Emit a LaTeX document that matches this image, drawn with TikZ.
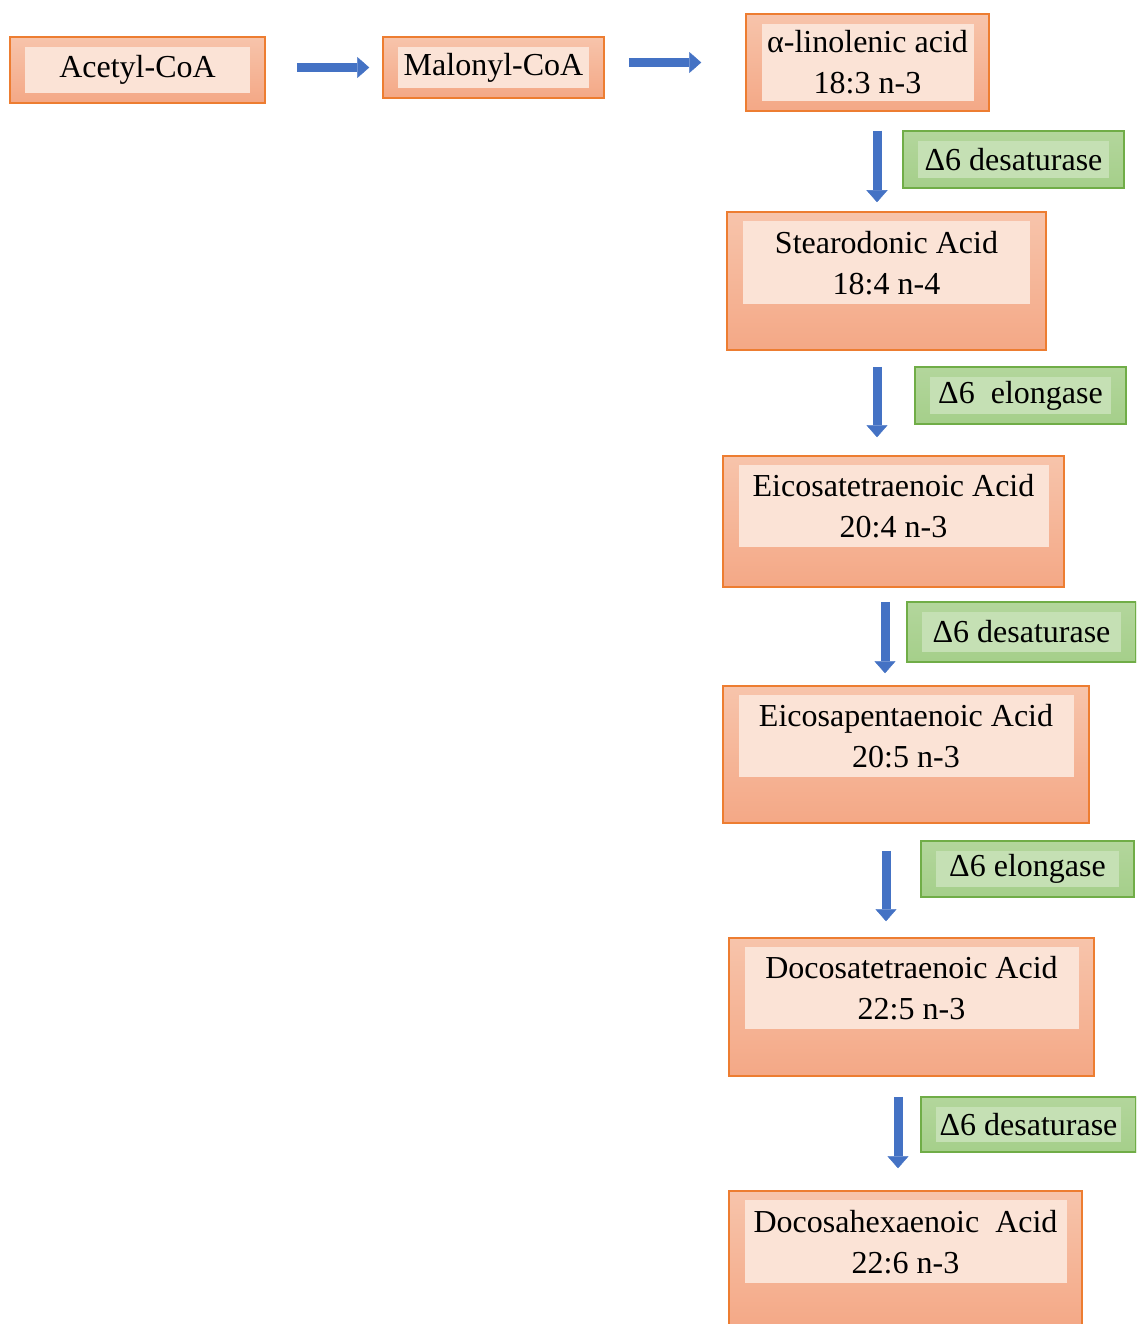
\documentclass[tikz,border=0pt]{standalone}
\usepackage{fontspec}
\setmainfont{Liberation Serif}
\usetikzlibrary{positioning,arrows.meta}

\definecolor{acidline}{HTML}{ED7D31}
\definecolor{acidtop}{HTML}{F7C4AB}
\definecolor{acidbottom}{HTML}{F4A886}
\definecolor{acidinner}{HTML}{FBE3D6}
\definecolor{enzline}{HTML}{70AD47}
\definecolor{enztop}{HTML}{B3D69C}
\definecolor{enzbottom}{HTML}{A5CF8A}
\definecolor{enzinner}{HTML}{C5E0B4}
\definecolor{flowblue}{HTML}{4472C4}

\begin{document}
\begin{tikzpicture}[x=1pt,y=-1pt]
            \tikzstyle{acid}=[draw=acidline, line width=1.5pt, top color=acidtop, bottom color=acidbottom, inner sep=0pt]
            \tikzstyle{acidtext}=[fill=acidinner, inner sep=0pt, align=center, font=\fontsize{32}{41}\selectfont]
            \tikzstyle{enzyme}=[draw=enzline, line width=1.5pt, top color=enztop, bottom color=enzbottom, inner sep=0pt]
            \tikzstyle{enzymetext}=[fill=enzinner, inner sep=0pt, font=\fontsize{32}{41}\selectfont]
            \tikzstyle{flow}=[draw=flowblue, line width=9pt, -{Triangle[width=21pt,length=12pt,line width=0.4pt]}]
            \path[use as bounding box, clip] (0,0) rectangle (1136,1324);

            % top row
            \node[acid, minimum width=255pt, minimum height=66pt] (acetyl) at (137.5,70) {};
            \node[acidtext, minimum width=225pt, minimum height=46pt] at (acetyl) {Acetyl-CoA};
            \node[acid, minimum width=221pt, minimum height=61pt] (malonyl) at (493.5,67.5) {};
            \node[acidtext, minimum width=191pt, minimum height=41pt] at (malonyl) {Malonyl-CoA};
            \node[acid, minimum width=243pt, minimum height=97pt] (ala) at (867.5,62.5) {};
            \node[acidtext, minimum width=212pt, minimum height=77pt] at (ala) {α-linolenic acid\\18:3 n-3};

            % right column
            \node[enzyme, minimum width=221pt, minimum height=57pt] (desat1) at (1013.5,159.5) {};
            \node[enzymetext, minimum width=191pt, minimum height=37pt] at (desat1) {Δ6 desaturase};
            \node[acid, minimum width=319pt, minimum height=138pt] (sda) at (886.5,281) {};
            \node[acidtext, minimum width=287pt, minimum height=83pt, below=10pt of sda.north] {Stearodonic Acid\\18:4 n-4};

            \node[enzyme, minimum width=211pt, minimum height=57pt] (elong1) at (1020.5,395.5) {};
            \node[enzymetext, minimum width=181pt, minimum height=37pt] at (elong1) {Δ6\ \ elongase};
            \node[acid, minimum width=341pt, minimum height=131pt] (eta) at (893.5,521.5) {};
            \node[acidtext, minimum width=310pt, minimum height=82pt, below=10pt of eta.north] {Eicosatetraenoic Acid\\20:4 n-3};

            \node[enzyme, minimum width=229pt, minimum height=60pt] (desat2) at (1021.5,632) {};
            \node[enzymetext, minimum width=199pt, minimum height=40pt] at (desat2) {Δ6 desaturase};
            \node[acid, minimum width=366pt, minimum height=137pt] (epa) at (906,754.5) {};
            \node[acidtext, minimum width=335pt, minimum height=82pt, below=10pt of epa.north] {Eicosapentaenoic Acid\\20:5 n-3};

            \node[enzyme, minimum width=213pt, minimum height=56pt] (elong2) at (1027.5,869) {};
            \node[enzymetext, minimum width=183pt, minimum height=36pt] at (elong2) {Δ6 elongase};
            \node[acid, minimum width=365pt, minimum height=138pt] (dpa) at (911.5,1007) {};
            \node[acidtext, minimum width=334pt, minimum height=82pt, below=10pt of dpa.north] {Docosatetraenoic Acid\\22:5 n-3};

            \node[enzyme, minimum width=215pt, minimum height=55pt] (desat3) at (1028.5,1124.5) {};
            \node[enzymetext, minimum width=185pt, minimum height=35pt] at (desat3) {Δ6 desaturase};
            \node[acid, minimum width=353pt, minimum height=138pt] (dha) at (905.5,1260) {};
            \node[acidtext, minimum width=322pt, minimum height=83pt, below=10pt of dha.north] {Docosahexaenoic\ \ Acid\\22:6 n-3};

            % block arrows
            \draw[flow, shorten <=31pt, shorten >=13pt] (acetyl.east |- malonyl) -- (malonyl.west);
            \draw[flow, shorten <=24pt, shorten >=44pt] (malonyl.east |- ala) -- (ala.west);
            \draw[flow, shorten <=19pt, shorten >=9pt] (ala.south -| 877,0) -- (sda.north -| 877,0);
            \draw[flow, shorten <=16pt, shorten >=18pt] (sda.south -| 877,0) -- (eta.north -| 877,0);
            \draw[flow, shorten <=14pt, shorten >=12pt] (eta.south -| 885,0) -- (epa.north -| 885,0);
            \draw[flow, shorten <=27pt, shorten >=16pt] (epa.south -| 886,0) -- (dpa.north -| 886,0);
            \draw[flow, shorten <=20pt, shorten >=22pt] (dpa.south -| 898,0) -- (dha.north -| 898,0);
\end{tikzpicture}
\end{document}
